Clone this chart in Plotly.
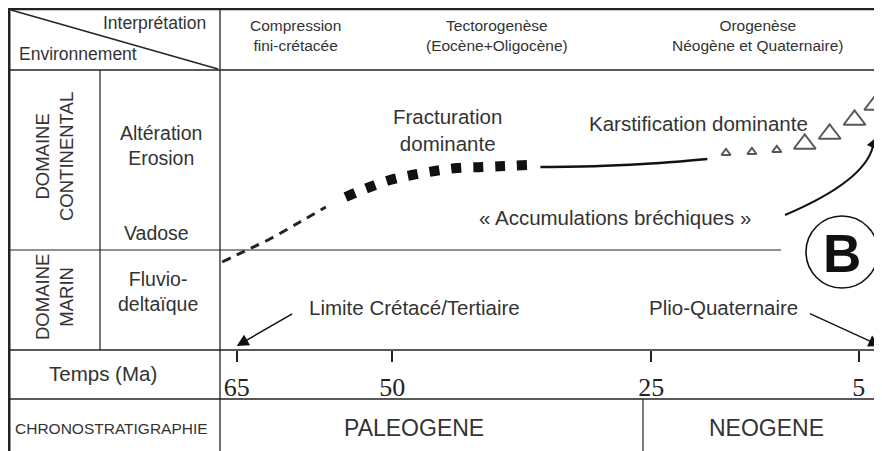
import plotly.graph_objects as go

# ---------------- data ----------------
time_ticks = [65, 50, 25, 5]

# continental evolution curve (x: age in Ma, y: diagram level, 0 = top)
dash_ma = [66.4, 64.2, 61.8, 58.9, 56.4]
dash_lv = [262, 251, 239, 222, 207]
frac_ma = [54.5, 52.4, 50.2, 48.1, 45.9, 43.7, 41.3, 39.2, 37.0]
frac_lv = [197, 188, 180, 175, 171, 168, 167, 166, 165]
karst_line_ma = [35.7, 30.0, 24.2, 19.6]
karst_line_lv = [167, 166, 163, 159]
karst_tri_ma = [17.8, 15.3, 12.9, 10.2, 7.8, 5.4, 3.4]
karst_tri_lv = [153, 152, 150, 144, 134, 120, 105]
karst_tri_size = [8, 8, 8, 19, 19, 19, 19]

boundary_ma = [65, 2.9]  # Limite Crétacé/Tertiaire, Plio-Quaternaire

# page geometry: the figure sits 8 px from the window's top-left corner
OFF = 8
WIN_W, WIN_H = 882, 451
W, H = WIN_W - OFF, WIN_H - OFF
INK = "#222222"
TXT = "#333333"
SANS = "Arial, Liberation Sans, Helvetica, sans-serif"
SERIF = "Times New Roman, Liberation Serif, serif"


def X(px):
    return (px - OFF) / W


def Y(py):
    return 1 - (py - OFF) / H


fig = go.Figure()

fig.add_trace(go.Scatter(x=dash_ma, y=dash_lv, mode="lines",
                         line=dict(color=INK, width=3, dash="9px,7px", shape="spline"),
                         hoverinfo="skip"))
fig.add_trace(go.Scatter(x=frac_ma, y=frac_lv, mode="lines",
                         line=dict(color="#111111", width=10, dash="10px,12px", shape="spline"),
                         hoverinfo="skip"))
fig.add_trace(go.Scatter(x=karst_line_ma, y=karst_line_lv, mode="lines",
                         line=dict(color="#111111", width=2.5, shape="spline"),
                         hoverinfo="skip"))
fig.add_trace(go.Scatter(x=karst_tri_ma, y=karst_tri_lv, mode="markers",
                         marker=dict(symbol="triangle-up-open", size=karst_tri_size,
                                     color="#111111", line=dict(width=2, color="#111111")),
                         hoverinfo="skip"))

shapes = []


def hline(y, x0, x1, w=1.2):
    shapes.append(dict(type="line", xref="paper", yref="paper", x0=X(x0), x1=X(x1),
                       y0=Y(y), y1=Y(y), line=dict(color=INK, width=w)))


def vline(x, y0, y1, w=1.2):
    shapes.append(dict(type="line", xref="paper", yref="paper", x0=X(x), x1=X(x),
                       y0=Y(y0), y1=Y(y1), line=dict(color=INK, width=w)))


# table frame
hline(9, 8, WIN_W, 2.5)
vline(9, 8, WIN_H, 3)
hline(70, 8, WIN_W, 1.3)
vline(100, 70, 350)
vline(220, 9, WIN_H, 1.3)
hline(250, 8, 781)
hline(350, 8, WIN_W, 1.5)
hline(399, 8, WIN_W, 1.3)
vline(643, 399, WIN_H)
shapes.append(dict(type="line", xref="paper", yref="paper", x0=X(11), y0=Y(10),
                   x1=X(218), y1=Y(69), line=dict(color=INK, width=1.3)))
# circle B
shapes.append(dict(type="circle", xref="paper", yref="paper", x0=X(806), x1=X(878),
                   y0=Y(216), y1=Y(288), line=dict(color="#111111", width=1.6)))
# curved arrow body
shapes.append(dict(type="path", xref="paper", yref="paper",
                   path=f"M {X(785)},{Y(215)} Q {X(865)},{Y(181)} {X(873)},{Y(146)}",
                   line=dict(color="#111111", width=2)))

annotations = []


def label(text, x, y, size, angle=0, font=SANS, color=TXT, bold=False):
    if bold:
        text = f"<b>{text}</b>"
    annotations.append(dict(text=text, x=X(x), y=Y(y), xref="paper", yref="paper",
                            showarrow=False, xanchor="center", yanchor="middle",
                            textangle=angle, align="center",
                            font=dict(family=font, size=size, color=color)))


label("Interprétation", 154, 23, 17.5)
label("Environnement", 78, 54, 17.5)
label("Compression<br>fini-crétacée", 295, 36, 15.5)
label("Tectorogenèse<br>(Eocène+Oligocène)", 497, 36, 15.5)
label("Orogenèse<br>Néogène et Quaternaire)", 757, 36, 15.5)
label("DOMAINE<br>CONTINENTAL", 54, 157, 18.5, angle=-90)
label("DOMAINE<br>MARIN", 54, 297, 18.5, angle=-90)
label("Altération<br>Erosion", 161, 145, 19.5)
label("Vadose", 156, 233, 19.5)
label("Fluvio-<br>deltaïque", 158, 291, 19.5)
label("Fracturation<br>dominante", 447, 130, 20.5)
label("Karstification dominante", 698, 123, 20.5)
label("« Accumulations bréchiques »", 615, 217, 20.5)
label("B", 842, 254, 53, color="#111111", bold=True)
label("Limite Crétacé/Tertiaire", 414, 307, 20.5)
label("Plio-Quaternaire", 723, 307, 20.5)
label("Temps (Ma)", 103, 373, 20.5)
label("CHRONOSTRATIGRAPHIE", 111, 428, 15.5)
label("PALEOGENE", 414, 428, 23)
label("NEOGENE", 766, 428, 23)

# arrowhead of the curved arrow
annotations.append(dict(text="", x=X(878), y=Y(136), xref="paper", yref="paper",
                        ax=-6, ay=13, showarrow=True, arrowhead=2, arrowsize=1.6,
                        arrowwidth=1.6, arrowcolor="#111111", standoff=0))
# boundary arrows pointing to the time axis
annotations.append(dict(text="", x=boundary_ma[0], y=346, xref="x", yref="y",
                        ax=57, ay=-33, showarrow=True, arrowhead=2, arrowsize=1.6,
                        arrowwidth=1.5, arrowcolor="#111111", standoff=0))
annotations.append(dict(text="", x=boundary_ma[1], y=346, xref="x", yref="y",
                        ax=-72, ay=-33, showarrow=True, arrowhead=2, arrowsize=1.6,
                        arrowwidth=1.5, arrowcolor="#111111", standoff=0))

# x axis: age (Ma), linear, pixel 8 -> 87.06 Ma, pixel 882 -> 2.75 Ma
fig.update_layout(
    width=W, height=H,
    margin=dict(l=0, r=0, t=0, b=0),
    paper_bgcolor="white", plot_bgcolor="white",
    showlegend=False,
    shapes=shapes, annotations=annotations,
    xaxis=dict(range=[87.06, 2.75], anchor="free", position=Y(350),
               showgrid=False, zeroline=False, showline=False,
               ticks="outside", ticklen=11, tickwidth=2, tickcolor=INK,
               tickvals=time_ticks, ticktext=[str(v) for v in time_ticks],
               tickfont=dict(family=SERIF, size=26, color=INK),
               ticklabelstandoff=3, fixedrange=True),
    yaxis=dict(range=[WIN_H, OFF], visible=False, fixedrange=True),
)

fig.write_html("out.html")
